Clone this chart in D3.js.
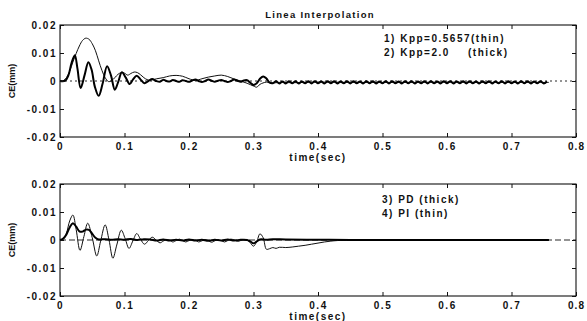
<!DOCTYPE html>
<html>
<head>
<meta charset="utf-8">
<script src="https://cdn.jsdelivr.net/npm/d3@7"></script>
<style>
body { margin: 0; background: #fff; }
svg { display: block; }
text { font-family: "Liberation Sans", Arial, sans-serif; font-weight: bold; fill: #111; }
</style>
</head>
<body>
<svg id="vis" width="587" height="321"></svg>
<script>
// tick values and labels
var xTicks = [0, 0.1, 0.2, 0.3, 0.4, 0.5, 0.6, 0.7, 0.8];
var xTickLabels = ["0", "0.1", "0.2", "0.3", "0.4", "0.5", "0.6", "0.7", "0.8"];
var yTicks = [-0.02, -0.01, 0, 0.01, 0.02];
var yTickLabels = ["-0.02", "-0.01", "0", "0.01", "0.02"];

// upper panel: Kpp = 0.5657 (thin), Kpp = 2.0 (thick)  [time, error]
var kppThin = [[0,0],[0.005,0.0001],[0.01,0.0012],[0.015,0.0035],[0.02,0.0068],[0.025,0.0098],[0.03,0.0125],[0.035,0.0145],[0.04,0.0153],[0.045,0.0149],
	[0.05,0.0133],[0.055,0.0108],[0.06,0.0072],[0.065,0.0038],[0.07,0.0012],[0.075,-0.0002],[0.08,0.0001],[0.085,0.0012],[0.09,0.0024],[0.095,0.003],
	[0.1,0.0028],[0.105,0.0021],[0.11,0.0027],[0.115,0.0032],[0.12,0.003],[0.125,0.0022],[0.13,0.0012],[0.135,0.0005],[0.14,0.0003],[0.15,0.0008],
	[0.16,0.0012],[0.17,0.0018],[0.18,0.002],[0.19,0.0017],[0.2,0.0008],[0.21,0.0002],[0.22,0.0008],[0.23,0.0014],[0.24,0.0018],[0.25,0.0021],
	[0.26,0.0016],[0.27,0.0007],[0.28,0.0],[0.29,-0.0008],[0.3,-0.0018],[0.305,-0.0022],[0.31,-0.0012],[0.32,-0.0004],[0.33,-0.0007],[0.34,-0.0005],
	[0.36,-0.0006],[0.4,-0.0004],[0.45,-0.0005],[0.5,-0.0005],[0.55,-0.0005],[0.6,-0.0004],[0.65,-0.0005],[0.7,-0.0005],[0.758,-0.0005]];

var kppThick = [[0,0],[0.008,0.0001],[0.013,0.002],[0.018,0.0065],[0.023,0.0092],[0.027,0.0045],[0.032,-0.0025],[0.038,0.002],[0.044,0.0067],[0.049,0.004],
	[0.054,-0.002],[0.06,-0.0053],[0.066,-0.001],[0.073,0.0053],[0.079,0.002],[0.085,-0.0031],[0.09,-0.0005],[0.096,0.0031],[0.102,0.0012],[0.108,-0.0011],
	[0.113,0.0005],[0.119,0.0019],[0.125,0.0005],[0.131,-0.0008],[0.137,0.0],[0.143,0.0007],[0.149,0.0],[0.155,-0.0003],[0.16,0.0004],[0.165,0.0],
	[0.17,-0.0002],[0.175,0.0004],[0.18,0.0],[0.185,-0.0003],[0.19,0.0003],[0.195,0.0],[0.2,-0.0003],[0.205,0.0002],[0.21,0.0005],[0.215,0.0],
	[0.22,-0.0004],[0.225,0.0],[0.23,0.0005],[0.235,0.0001],[0.24,-0.0003],[0.245,0.0001],[0.25,0.0004],[0.255,0.0],[0.26,-0.0004],[0.265,0.0],
	[0.27,0.0005],[0.275,0.0001],[0.28,-0.0003],[0.285,0.0002],[0.29,0.0003],[0.295,-0.0006],[0.3,-0.0014],[0.305,-0.0008],[0.31,0.0008],[0.315,0.0016],
	[0.32,0.0009],[0.325,-0.0006],[0.33,-0.0008],[0.335,-0.0001],[0.34,-0.0009],[0.345,-0.0002],[0.35,-0.0009],[0.355,-0.0001],[0.36,-0.0008],[0.365,-0.0001],
	[0.37,-0.0009],[0.375,-0.0002],[0.38,-0.0008],[0.385,-0.0001],[0.39,-0.0009],[0.395,-0.0001],[0.4,-0.0008],[0.405,-0.0002],[0.41,-0.0009],[0.415,-0.0001],
	[0.42,-0.0008],[0.425,-0.0001],[0.43,-0.0009],[0.435,-0.0002],[0.44,-0.0008],[0.445,-0.0001],[0.45,-0.0009],[0.455,-0.0001],[0.46,-0.0008],[0.465,-0.0002],
	[0.47,-0.0009],[0.475,-0.0001],[0.48,-0.0008],[0.485,-0.0001],[0.49,-0.0009],[0.495,-0.0002],[0.5,-0.0008],[0.505,-0.0001],[0.51,-0.0009],[0.515,-0.0001],
	[0.52,-0.0008],[0.525,-0.0002],[0.53,-0.0009],[0.535,-0.0001],[0.54,-0.0008],[0.545,-0.0001],[0.55,-0.0009],[0.555,-0.0002],[0.56,-0.0008],[0.565,-0.0001],
	[0.57,-0.0009],[0.575,-0.0001],[0.58,-0.0008],[0.585,-0.0002],[0.59,-0.0009],[0.595,-0.0001],[0.6,-0.0008],[0.605,-0.0001],[0.61,-0.0009],[0.615,-0.0002],
	[0.62,-0.0008],[0.625,-0.0001],[0.63,-0.0009],[0.635,-0.0001],[0.64,-0.0008],[0.645,-0.0002],[0.65,-0.0009],[0.655,-0.0001],[0.66,-0.0008],[0.665,-0.0001],
	[0.67,-0.0009],[0.675,-0.0002],[0.68,-0.0008],[0.685,-0.0001],[0.69,-0.0009],[0.695,-0.0001],[0.7,-0.0008],[0.705,-0.0002],[0.71,-0.0009],[0.715,-0.0001],
	[0.72,-0.0008],[0.725,-0.0001],[0.73,-0.0009],[0.735,-0.0002],[0.74,-0.0008],[0.745,-0.0001],[0.75,-0.0009],[0.755,-0.0002]];

// lower panel: PD (thick), PI (thin)
var pdThick = [[0,0],[0.005,0.0005],[0.01,0.002],[0.015,0.0045],[0.02,0.006],[0.025,0.0048],[0.03,0.0031],[0.035,0.003],[0.04,0.0037],[0.045,0.0036],
	[0.05,0.0022],[0.055,0.0008],[0.06,0.0002],[0.07,0.0003],[0.08,0.0001],[0.09,0.0003],[0.1,0.0001],[0.11,0.0004],[0.12,0.0],[0.13,0.0003],
	[0.14,0.0002],[0.15,-0.0002],[0.16,0.0002],[0.17,-0.0002],[0.18,0.0001],[0.19,-0.0002],[0.2,0.0002],[0.21,-0.0002],[0.22,0.0001],[0.23,-0.0003],
	[0.24,0.0001],[0.25,-0.0002],[0.26,0.0002],[0.27,-0.0002],[0.28,0.0001],[0.29,0.0],[0.295,-0.0005],[0.3,-0.0012],[0.305,-0.0005],[0.31,0.0002],
	[0.32,0.0001],[0.33,0.0003],[0.35,0.0002],[0.4,0.0001],[0.45,0.0],[0.5,0.0],[0.6,0.0],[0.7,0.0],[0.758,0.0]];

var piThin = [[0,0],[0.005,0.0005],[0.01,0.0025],[0.015,0.0068],[0.02,0.0089],[0.025,0.0038],[0.031,-0.0037],[0.037,0.0012],[0.043,0.006],[0.05,0.0008],
	[0.057,-0.0057],[0.063,-0.0004],[0.07,0.0054],[0.076,0.0],[0.082,-0.0065],[0.088,-0.0018],[0.095,0.0035],[0.101,0.0005],[0.107,-0.003],[0.113,-0.0003],
	[0.119,0.0023],[0.125,0.0002],[0.131,-0.0015],[0.137,-0.0002],[0.143,0.001],[0.149,0.0],[0.155,-0.001],[0.16,-0.0004],[0.165,0.0002],[0.17,-0.0001],
	[0.175,-0.0007],[0.18,-0.0002],[0.185,0.0003],[0.19,-0.0002],[0.195,-0.0007],[0.2,-0.0002],[0.205,0.0002],[0.21,-0.0001],[0.215,-0.0007],[0.22,-0.0003],
	[0.225,0.0001],[0.23,-0.0002],[0.235,-0.0008],[0.24,-0.0003],[0.245,0.0001],[0.25,-0.0002],[0.255,-0.0007],[0.26,-0.0002],[0.265,0.0003],[0.27,0.0],
	[0.275,-0.0005],[0.28,-0.0002],[0.285,0.0002],[0.29,0.0],[0.295,-0.001],[0.3,-0.0022],[0.305,-0.0006],[0.31,0.0022],[0.315,0.0008],[0.32,-0.0033],
	[0.325,-0.0031],[0.33,-0.0027],[0.335,-0.003],[0.34,-0.0026],[0.35,-0.0027],[0.36,-0.0025],[0.37,-0.0022],[0.38,-0.0019],[0.39,-0.0015],[0.4,-0.0011],
	[0.41,-0.0007],[0.42,-0.0004],[0.43,-0.0002],[0.45,-0.0001],[0.5,0.0],[0.55,-0.0001],[0.6,0.0],[0.65,-0.0001],[0.7,0.0],[0.758,0.0]];

var topLegend = ["1) Kpp=0.5657(thin)", "2) Kpp=2.0", "(thick)"];
var botLegend = ["3) PD (thick)", "4) PI (thin)"];

var svg = d3.select("#vis");
var left = 60, right = 576;

var x = d3.scaleLinear().domain([0, 0.8]).range([left, right]);

function drawPanel(top, bottom, thick, thin, dash)
{
	var y = d3.scaleLinear().domain([-0.02, 0.02]).range([bottom, top]);
	var g = svg.append("g");

	// zero reference line
	g.append("line")
		.attr("x1", x(0)).attr("x2", x(0.8))
		.attr("y1", y(0)).attr("y2", y(0))
		.attr("stroke", "#111").attr("stroke-width", 0.9)
		.attr("stroke-dasharray", dash);

	var line = d3.line()
		.x(function(d) { return x(d[0]); })
		.y(function(d) { return y(d[1]); })
		.curve(d3.curveCatmullRom.alpha(0.5));

	g.append("path").attr("d", line(thin))
		.attr("fill", "none").attr("stroke", "#111").attr("stroke-width", 1);
	g.append("path").attr("d", line(thick))
		.attr("fill", "none").attr("stroke", "#000").attr("stroke-width", 2);

	// axes, matlab style inward ticks
	var xb = g.append("g").attr("transform", "translate(0," + bottom + ")")
		.call(d3.axisBottom(x).tickValues(xTicks).tickSize(-4).tickSizeOuter(0).tickPadding(6)
			.tickFormat(function(d, i) { return xTickLabels[i]; }));
	var xt = g.append("g").attr("transform", "translate(0," + top + ")")
		.call(d3.axisTop(x).tickValues(xTicks).tickSize(-4).tickSizeOuter(0).tickFormat(""));
	var yl = g.append("g").attr("transform", "translate(" + left + ",0)")
		.call(d3.axisLeft(y).tickValues(yTicks).tickSize(-4).tickSizeOuter(0).tickPadding(3)
			.tickFormat(function(d, i) { return yTickLabels[i]; }));
	var yr = g.append("g").attr("transform", "translate(" + right + ",0)")
		.call(d3.axisRight(y).tickValues(yTicks).tickSize(-4).tickSizeOuter(0).tickFormat(""));

	[xb, xt, yl, yr].forEach(function(a) {
		a.select(".domain").remove();
		a.selectAll("line").attr("stroke", "#111");
		a.selectAll("text").attr("font-family", null).attr("font-size", null)
			.style("font-size", "10px").style("letter-spacing", "1.5px");
	});
	// keep the last label inside the page
	xb.selectAll("text").filter(function(d) { return d === 0.8; }).style("letter-spacing", "1px");

	g.append("rect")
		.attr("x", left).attr("y", top)
		.attr("width", right - left).attr("height", bottom - top)
		.attr("fill", "none").attr("stroke", "#111").attr("stroke-width", 1.1);

	g.append("text")
		.attr("transform", "translate(15," + y(0) + ") rotate(-90)")
		.attr("text-anchor", "middle")
		.style("font-size", "9px")
		.text("CE(mm)");

	g.append("text")
		.attr("x", 318).attr("y", bottom + 24)
		.attr("text-anchor", "middle")
		.style("font-size", "10px").style("letter-spacing", "1.5px")
		.text("time(sec)");

	return g;
}

var g1 = drawPanel(25, 137, kppThick, kppThin, "2,3");
var g2 = drawPanel(184, 296, pdThick, piThin, "6,3");

svg.append("text")
	.attr("x", 320).attr("y", 18)
	.attr("text-anchor", "middle")
	.style("font-size", "9.5px").style("letter-spacing", "1.3px")
	.text("Linea Interpolation");

g1.append("text").attr("x", 384).attr("y", 42)
	.style("font-size", "10px").style("letter-spacing", "1.5px")
	.text(topLegend[0]);
g1.append("text").attr("x", 384).attr("y", 56)
	.style("font-size", "10px").style("letter-spacing", "1.5px")
	.text(topLegend[1]);
g1.append("text").attr("x", 468).attr("y", 56)
	.style("font-size", "10px").style("letter-spacing", "1.5px")
	.text(topLegend[2]);

g2.append("text").attr("x", 382).attr("y", 203)
	.style("font-size", "10px").style("letter-spacing", "1.5px")
	.text(botLegend[0]);
g2.append("text").attr("x", 382).attr("y", 217)
	.style("font-size", "10px").style("letter-spacing", "1.5px")
	.text(botLegend[1]);
</script>
</body>
</html>
